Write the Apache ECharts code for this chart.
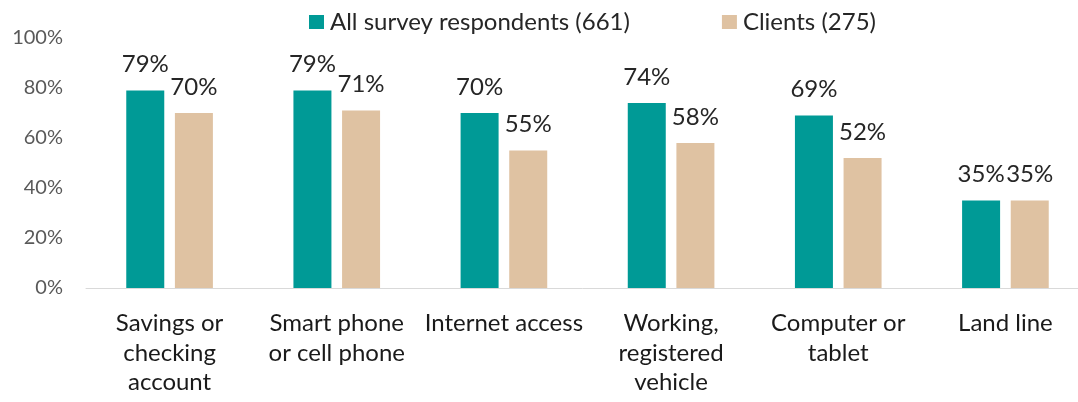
<!DOCTYPE html>
<html><head><meta charset="utf-8">
<script src="https://cdn.jsdelivr.net/npm/echarts@6/dist/echarts.min.js"></script>
<style>html,body{margin:0;padding:0;background:#fff}#c{width:1078px;height:402px}</style>
</head><body><div id="c"></div>
<script>
const categories = ["Savings or\nchecking\naccount", "Smart phone\nor cell phone", "Internet access", "Working,\nregistered\nvehicle", "Computer or\ntablet", "Land line"];
const allRespondents = [79, 79, 70, 74, 69, 35];
const clients = [70, 71, 55, 58, 52, 35];
const yTicks = [0, 20, 40, 60, 80, 100];
const seriesNames = ["All survey respondents (661)", "Clients (275)"];

const FONT = "Lato, 'Open Sans', sans-serif";
const chart = echarts.init(document.getElementById('c'), null, {renderer: 'canvas'});
const labelCfg = {show: true, position: 'top', distance: 14, fontFamily: FONT, fontSize: 24, color: '#262626', formatter: p => Math.round(p.value) + '%'};
chart.setOption({
  animation: false,
  color: ['#009A96', '#DFC2A2'],
  legend: {
    top: 5, left: 304, itemWidth: 15, itemHeight: 14, itemGap: 92,
    icon: 'rect',
    textStyle: {fontFamily: FONT, fontSize: 24, color: '#262626', padding: [0, 0, 0, 1]},
    data: seriesNames
  },
  grid: {left: 86, top: 38, width: 1003, height: 250, containLabel: false, outerBoundsMode: 'none'},
  xAxis: {
    type: 'category', data: categories,
    axisLine: {lineStyle: {color: '#D9D9D9', width: 1}},
    axisTick: {show: false},
    axisLabel: {interval: 0, margin: 21, fontFamily: FONT, fontSize: 24, lineHeight: 29.5, color: '#1a1a1a'}
  },
  yAxis: {
    type: 'value', min: yTicks[0], max: yTicks[yTicks.length - 1], interval: 20,
    axisLine: {show: false}, axisTick: {show: false}, splitLine: {show: false},
    axisLabel: {margin: 23, fontFamily: FONT, fontSize: 20, color: '#595959', formatter: v => v + '%'}
  },
  series: [
    {name: seriesNames[0], type: 'bar', data: allRespondents, barWidth: 38, barGap: '28%', label: labelCfg},
    {name: seriesNames[1], type: 'bar', data: clients, barWidth: 38, label: labelCfg}
  ]
});
</script></body></html>
